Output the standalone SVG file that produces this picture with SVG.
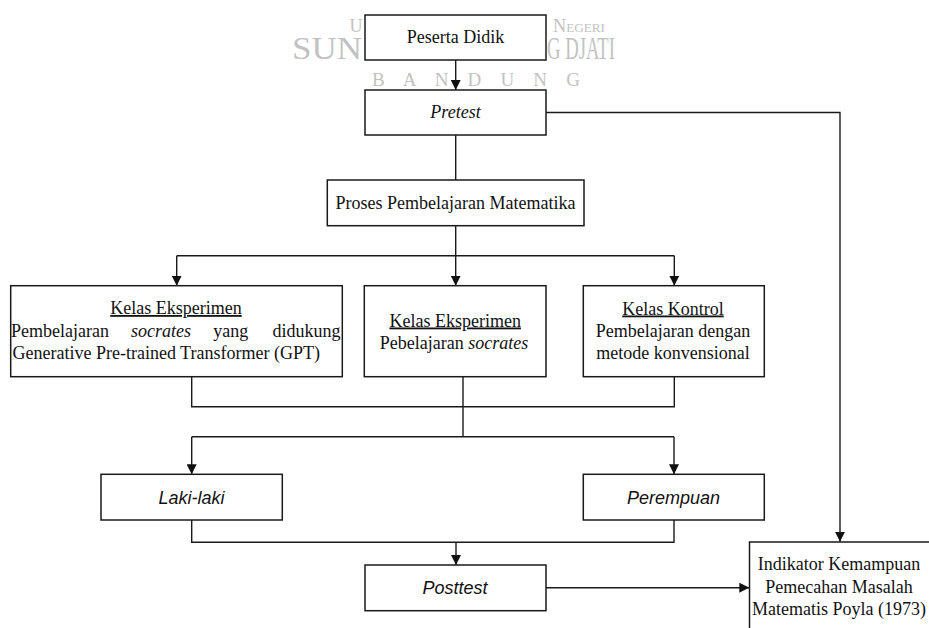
<svg xmlns="http://www.w3.org/2000/svg" width="929" height="628" viewBox="0 0 929 628">
<style>
.box{fill:#fff;stroke:#1a1a1a;stroke-width:1.5}
.ln{fill:none;stroke:#1a1a1a;stroke-width:1.4}
.arr{marker-end:url(#ah)}
.t{font-family:"Liberation Serif","Times New Roman",serif;font-size:18px;fill:#111}
.s{font-family:"Liberation Sans",Arial,sans-serif;font-size:18px;font-style:italic;fill:#111}
.c{text-anchor:middle}
.u{text-decoration:underline}
.i{font-style:italic}
.wm{font-family:"Liberation Serif","Times New Roman",serif;fill:#c2c2c2}
</style>
<defs>
<marker id="ah" markerWidth="10" markerHeight="10" refX="10" refY="5" orient="auto" markerUnits="userSpaceOnUse">
<path d="M0,0 L10,5 L0,10 z" fill="#111"/>
</marker>
</defs>
<rect width="929" height="628" fill="#fff"/>
<g id="watermark">
<text class="wm" x="349.5" y="31.5" font-size="18">U</text>
<text class="wm" x="553" y="31.5" font-size="18" font-variant="small-caps" textLength="52" lengthAdjust="spacingAndGlyphs">Negeri</text>
<text class="wm" x="292" y="58.5" font-size="31" textLength="70" lengthAdjust="spacingAndGlyphs">SUN</text>
<text class="wm" x="547" y="58.5" font-size="31" textLength="68" lengthAdjust="spacingAndGlyphs">G DJATI</text>
<text class="wm" x="372" y="86" font-size="19" textLength="208" lengthAdjust="spacing">B A N D U N G</text>
</g>
<g id="connectors">
<path class="ln arr" d="M455.7,60 V90"/>
<path class="ln" d="M455.7,135 V180"/>
<path class="ln arr" d="M455.7,225.7 V285.7"/>
<path class="ln" d="M176.7,255.7 H674.3"/>
<path class="ln arr" d="M176.7,255.7 V285.7"/>
<path class="ln arr" d="M674.3,255.7 V285.7"/>
<path class="ln" d="M191.7,376.7 V406.7 H674.3 V376.7"/>
<path class="ln" d="M463,376.7 V436.7"/>
<path class="ln" d="M191.7,436.7 H674"/>
<path class="ln arr" d="M191.7,436.7 V474.3"/>
<path class="ln arr" d="M674,436.7 V474.3"/>
<path class="ln" d="M191.7,520 V542.3 H674 V520"/>
<path class="ln arr" d="M456,542.3 V565"/>
<path class="ln arr" d="M546,587.7 H749.3"/>
<path class="ln arr" d="M546,112.5 H840 V541.7"/>
</g>
<g id="peserta">
<rect class="box" x="365" y="15" width="181" height="45"/>
<text class="t c" x="455.5" y="42.5">Peserta Didik</text>
</g>
<g id="pretest">
<rect class="box" x="365" y="90" width="181" height="45"/>
<text class="t c i" x="455.5" y="118">Pretest</text>
</g>
<g id="proses">
<rect class="box" x="327.3" y="180" width="256.7" height="45.7"/>
<text class="t c" x="455.5" y="208.5">Proses Pembelajaran Matematika</text>
</g>
<g id="kelas-gpt">
<rect class="box" x="10.7" y="285.7" width="331.6" height="91"/>
<text class="t c u" x="176" y="314">Kelas Eksperimen</text>
<text class="t" x="11" y="336.5">Pembelajaran</text>
<text class="t i" x="131" y="336.5">socrates</text>
<text class="t" x="213.3" y="336.5">yang</text>
<text class="t" x="340.5" y="336.5" text-anchor="end">didukung</text>
<text class="t" x="12.5" y="359">Generative Pre-trained Transformer (GPT)</text>
</g>
<g id="kelas-socrates">
<rect class="box" x="364.3" y="285.7" width="181.7" height="91"/>
<text class="t c u" x="455.2" y="326.5">Kelas Eksperimen</text>
<text class="t c" x="454" y="348.5">Pebelajaran <tspan class="i">socrates</tspan></text>
</g>
<g id="kelas-kontrol">
<rect class="box" x="583.3" y="285.7" width="181" height="91"/>
<text class="t c u" x="673" y="314.5">Kelas Kontrol</text>
<text class="t c" x="673" y="336.5">Pembelajaran dengan</text>
<text class="t c" x="673" y="359">metode konvensional</text>
</g>
<g id="laki">
<rect class="box" x="101" y="474.3" width="181.3" height="45.7"/>
<text class="s c" x="191.5" y="503.5">Laki-laki</text>
</g>
<g id="perempuan">
<rect class="box" x="583.3" y="474.3" width="181" height="45.7"/>
<text class="s c" x="673.5" y="503.5">Perempuan</text>
</g>
<g id="posttest">
<rect class="box" x="365" y="565" width="181" height="45.7"/>
<text class="s c" x="455" y="593.5">Posttest</text>
</g>
<g id="indikator">
<rect class="box" x="749.5" y="542" width="181" height="100"/>
<text class="t c" x="839" y="570">Indikator Kemampuan</text>
<text class="t c" x="839" y="592.5">Pemecahan Masalah</text>
<text class="t c" x="839" y="614.5">Matematis Poyla (1973)</text>
</g>
</svg>
